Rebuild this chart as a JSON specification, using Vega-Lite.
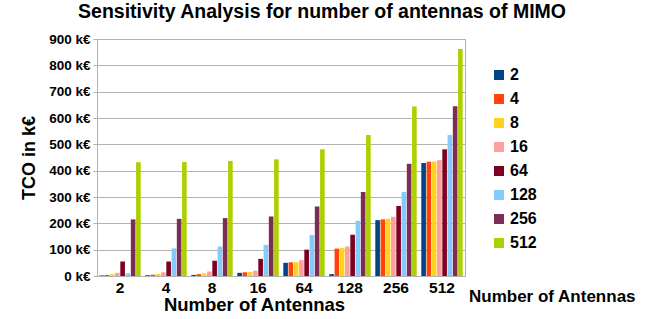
{
  "$schema": "https://vega.github.io/schema/vega-lite/v6.json",
  "width": 368,
  "height": 237,
  "autosize": {"type": "none"},
  "padding": {"left": 97, "top": 39, "right": 183, "bottom": 43},
  "background": "white",
  "title": {"text": "Sensitivity Analysis for number of antennas of MIMO", "font": "Liberation Sans", "fontSize": 19.5, "fontWeight": "bold", "color": "black", "anchor": "middle", "dx": 41, "offset": 10},
  "data": {"values": [
    {"g": 2, "s": 2, "v": 2}, {"g": 2, "s": 4, "v": 4}, {"g": 2, "s": 8, "v": 7}, {"g": 2, "s": 16, "v": 12}, {"g": 2, "s": 64, "v": 55}, {"g": 2, "s": 128, "v": 10}, {"g": 2, "s": 256, "v": 215}, {"g": 2, "s": 512, "v": 432},
    {"g": 4, "s": 2, "v": 3}, {"g": 4, "s": 4, "v": 5}, {"g": 4, "s": 8, "v": 8}, {"g": 4, "s": 16, "v": 14}, {"g": 4, "s": 64, "v": 55}, {"g": 4, "s": 128, "v": 105}, {"g": 4, "s": 256, "v": 217}, {"g": 4, "s": 512, "v": 433},
    {"g": 8, "s": 2, "v": 4}, {"g": 8, "s": 4, "v": 7}, {"g": 8, "s": 8, "v": 10}, {"g": 8, "s": 16, "v": 17}, {"g": 8, "s": 64, "v": 58}, {"g": 8, "s": 128, "v": 112}, {"g": 8, "s": 256, "v": 220}, {"g": 8, "s": 512, "v": 437},
    {"g": 16, "s": 2, "v": 12}, {"g": 16, "s": 4, "v": 14}, {"g": 16, "s": 8, "v": 15}, {"g": 16, "s": 16, "v": 20}, {"g": 16, "s": 64, "v": 65}, {"g": 16, "s": 128, "v": 118}, {"g": 16, "s": 256, "v": 226}, {"g": 16, "s": 512, "v": 443},
    {"g": 64, "s": 2, "v": 50}, {"g": 64, "s": 4, "v": 52}, {"g": 64, "s": 8, "v": 53}, {"g": 64, "s": 16, "v": 60}, {"g": 64, "s": 64, "v": 100}, {"g": 64, "s": 128, "v": 156}, {"g": 64, "s": 256, "v": 264}, {"g": 64, "s": 512, "v": 481},
    {"g": 128, "s": 2, "v": 7}, {"g": 128, "s": 4, "v": 104}, {"g": 128, "s": 8, "v": 107}, {"g": 128, "s": 16, "v": 112}, {"g": 128, "s": 64, "v": 157}, {"g": 128, "s": 128, "v": 210}, {"g": 128, "s": 256, "v": 319}, {"g": 128, "s": 512, "v": 535},
    {"g": 256, "s": 2, "v": 212}, {"g": 256, "s": 4, "v": 215}, {"g": 256, "s": 8, "v": 217}, {"g": 256, "s": 16, "v": 225}, {"g": 256, "s": 64, "v": 266}, {"g": 256, "s": 128, "v": 319}, {"g": 256, "s": 256, "v": 426}, {"g": 256, "s": 512, "v": 644},
    {"g": 512, "s": 2, "v": 429}, {"g": 512, "s": 4, "v": 434}, {"g": 512, "s": 8, "v": 435}, {"g": 512, "s": 16, "v": 440}, {"g": 512, "s": 64, "v": 481}, {"g": 512, "s": 128, "v": 535}, {"g": 512, "s": 256, "v": 645}, {"g": 512, "s": 512, "v": 862}
  ]},
  "mark": {"type": "bar", "stroke": null},
  "encoding": {
    "x": {"field": "g", "type": "ordinal", "scale": {"paddingInner": 0.1, "paddingOuter": 0.05},
      "axis": {"title": "Number of Antennas", "labelAngle": 0, "labelFont": "Liberation Sans", "labelFontSize": 15.5, "labelFontWeight": "bold", "labelColor": "black", "titleFont": "Liberation Sans", "titleFontSize": 18.5, "titleFontWeight": "bold", "titleColor": "black", "titleX": 157, "titlePadding": 0, "ticks": false, "labelPadding": 4, "domainColor": "#b3b3b3", "grid": false}},
    "xOffset": {"field": "s", "type": "ordinal", "scale": {"paddingInner": 0.12}},
    "y": {"field": "v", "type": "quantitative", "scale": {"domain": [0, 900]},
      "axis": {"title": "TCO in k€", "values": [0, 100, 200, 300, 400, 500, 600, 700, 800, 900], "labelExpr": "datum.value + ' k€'", "labelFont": "Liberation Sans", "labelFontSize": 13.5, "labelFontWeight": "bold", "labelColor": "black", "titleFont": "Liberation Sans", "titleFontSize": 18, "titleFontWeight": "bold", "titleColor": "black", "titlePadding": 10, "gridColor": "#b3b3b3", "gridWidth": 1.2, "domainColor": "#b3b3b3", "tickColor": "#b3b3b3", "tickSize": 4, "labelPadding": 3}},
    "color": {"field": "s", "type": "ordinal",
      "scale": {"domain": [2, 4, 8, 16, 64, 128, 256, 512], "range": ["#004586", "#ff420e", "#ffd320", "#ff9e9e", "#7e0021", "#83caff", "#7b2c57", "#aecf00"]},
      "legend": {"title": "Number of Antennas", "orient": "none", "legendX": 372, "legendY": 28, "titleOrient": "bottom", "titlePadding": 38, "symbolType": "square", "symbolSize": 100, "symbolStrokeWidth": 0, "symbolOffset": 22, "labelFont": "Liberation Sans", "labelFontSize": 16, "labelFontWeight": "bold", "labelColor": "black", "rowPadding": 8, "labelOffset": 3, "titleFont": "Liberation Sans", "titleFontSize": 17, "titleFontWeight": "bold", "titleColor": "black"}}
  },
  "config": {"view": {"stroke": "#b3b3b3"}}
}
